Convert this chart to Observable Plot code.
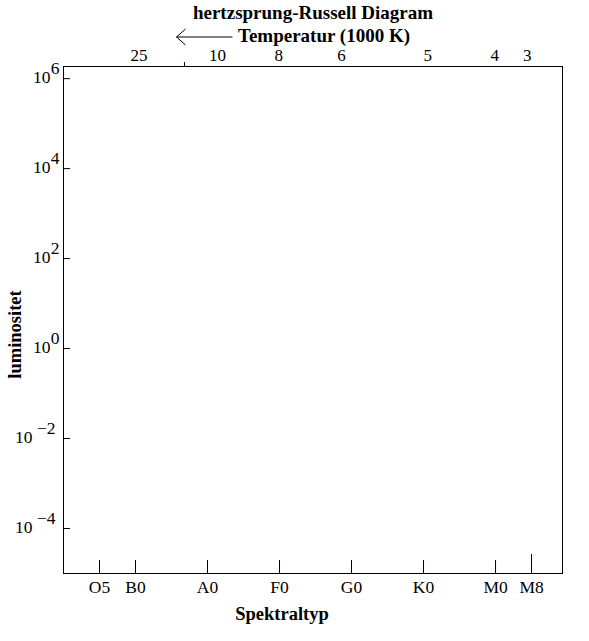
<!DOCTYPE html>
<html>
<head>
<meta charset="utf-8">
<script src="https://cdn.jsdelivr.net/npm/d3@7"></script>
<script src="https://cdn.jsdelivr.net/npm/@observablehq/plot@0.6"></script>
<style>
  html, body { margin: 0; padding: 0; background: #fff; }
</style>
</head>
<body>
<div id="chart"></div>
<script>
// Spectral types along the bottom axis (position in spectral-class units, B0 = 0)
const specLabels = ["O5", "B0", "A0", "F0", "G0", "K0", "M0", "M8"];
const specPos = [-0.5, 0, 1, 2, 3, 4, 5, 5.5];

// Temperature labels along the top (1000 K), placed on the same spectral scale
const tempLabels = ["25", "10", "8", "6", "5", "4", "3"];
const tempPos = [0.05, 1.14, 1.99, 2.86, 4.06, 4.99, 5.44];
const tempTicks = [0.68];

// Luminosity decades on the left axis
const lumExps = [6, 4, 2, 0, -2, -4];

const yLabel = "luminositet";

const W = 589, H = 641;
const mL = 63, mR = 27, mT = 66, mB = 68;
const serif = "Liberation Serif, Times New Roman, serif";

const specData = specLabels.map((l, i) => ({label: l, x: specPos[i]}));
const tempData = tempLabels.map((l, i) => ({label: l, x: tempPos[i]}));
const sup = e => (e < 0 ? "\u2212" + Math.abs(e) : String(e));

// arrow drawn relative to the "Temperatur" heading
function arrowMark(index, scales, values, dims) {
  const cx = (dims.marginLeft + dims.width - dims.marginRight) / 2 + 11;
  const y = dims.marginTop - 29;
  const x2 = cx - 91, x1 = x2 - 56;
  const g = d3.create("svg:g").attr("stroke", "#000").attr("fill", "none").attr("stroke-width", 1);
  g.append("line").attr("x1", x1).attr("x2", x2).attr("y1", y).attr("y2", y);
  g.append("path").attr("d", `M${x1 + 9},${y - 8}L${x1},${y}L${x1 + 9},${y + 8}`);
  return g.node();
}

// rotated y-axis title
function yTitleMark(index, scales, values, dims) {
  const x = dims.marginLeft - 48;
  const y = (dims.marginTop + dims.height - dims.marginBottom) / 2 + 15;
  const t = d3.create("svg:text")
    .attr("transform", `translate(${x},${y}) rotate(-90)`)
    .attr("text-anchor", "middle")
    .attr("dy", "0.32em")
    .attr("font-weight", "bold")
    .attr("font-size", 18.5)
    .attr("font-family", serif)
    .attr("fill", "#000")
    .text(yLabel);
  return t.node();
}

const chart = Plot.plot({
  width: W,
  height: H,
  marginLeft: mL,
  marginRight: mR,
  marginTop: mT,
  marginBottom: mB,
  style: {fontFamily: serif, fontSize: "17px", background: "#fff", color: "#000", overflow: "visible"},
  x: {domain: [-1, 5.93], axis: null},
  y: {type: "log", domain: [1e-5, Math.pow(10, 6.27)], axis: null},
  marks: [
    Plot.frame({stroke: "#000", strokeWidth: 1}),
    // left axis ticks (inward)
    Plot.axisY(lumExps.map(e => Math.pow(10, e)), {anchor: "left", tickSize: -7, tickFormat: () => "", label: null, stroke: "#000"}),
    // left tick labels: base "10"
    Plot.text(lumExps.filter(e => e >= 0), {y: e => Math.pow(10, e), text: () => "10", frameAnchor: "left", textAnchor: "end", dx: -13, dy: -1, fontSize: 17.5}),
    Plot.text(lumExps.filter(e => e < 0), {y: e => Math.pow(10, e), text: () => "10", frameAnchor: "left", textAnchor: "end", dx: -31, dy: -1, fontSize: 17.5}),
    // exponents
    Plot.text(lumExps.filter(e => e >= 0), {y: e => Math.pow(10, e), text: sup, frameAnchor: "left", textAnchor: "end", dx: -4, dy: -10, fontSize: 17.5}),
    Plot.text(lumExps.filter(e => e < 0), {y: e => Math.pow(10, e), text: sup, frameAnchor: "left", textAnchor: "end", dx: -8, dy: -10, fontSize: 17.5}),
    // bottom ticks (inward)
    Plot.axisX(specData.filter(d => d.label !== "M8").map(d => d.x), {anchor: "bottom", tickSize: -13, tickFormat: () => "", label: null, stroke: "#000"}),
    Plot.axisX(specData.filter(d => d.label === "M8").map(d => d.x), {anchor: "bottom", tickSize: -19, tickFormat: () => "", label: null, stroke: "#000"}),
    Plot.text(specData, {x: "x", text: "label", frameAnchor: "bottom", dy: 14, lineAnchor: "middle", fontSize: 17.5}),
    // top axis
    Plot.axisX(tempTicks, {anchor: "top", tickSize: 5, tickFormat: () => "", label: null, stroke: "#000"}),
    Plot.text(tempData, {x: "x", text: "label", frameAnchor: "top", dy: -11, lineAnchor: "middle"}),
    // titles
    Plot.text(["hertzsprung-Russell Diagram"], {frameAnchor: "top", dy: -54, lineAnchor: "middle", fontWeight: "bold", fontSize: 19}),
    Plot.text(["Temperatur (1000 K)"], {frameAnchor: "top", dx: 11, dy: -31, lineAnchor: "middle", fontWeight: "bold", fontSize: 19}),
    Plot.text(["Spektraltyp"], {frameAnchor: "bottom", dx: -31, dy: 41, lineAnchor: "middle", fontWeight: "bold", fontSize: 18.5}),
    yTitleMark,
    arrowMark
  ]
});

document.getElementById("chart").appendChild(chart);
</script>
</body>
</html>
